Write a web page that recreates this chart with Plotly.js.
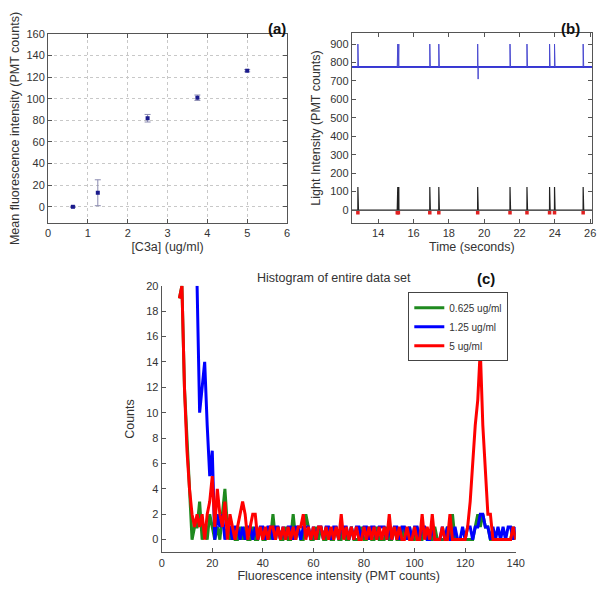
<!DOCTYPE html>
<html>
<head>
<meta charset="utf-8">
<script src="https://cdn.plot.ly/plotly-3.0.1.min.js"></script>
<style>html,body{margin:0;padding:0;background:#fff;}#chart{width:604px;height:589px;}</style>
</head>
<body>
<div id="chart"></div>
<script>
// ---------- Panel (a): mean fluorescence vs concentration ----------
const c3aConc = [0.625, 1.25, 2.5, 3.75, 5];
const meanFluor = [0, 13, 82, 101, 126];
const errPlus = [0.5, 12, 3.5, 2.5, 1];
const errMinus = [0.5, 12, 3.5, 2.5, 1];

// ---------- Panel (b): light intensity time traces ----------
const spikeTimes = [12.85, 15.08, 15.14, 16.92, 17.43, 19.63, 21.46, 22.42, 23.70, 23.98, 25.60];
const blueBaseline = 775;
const bluePeaks = [900, 900, 900, 900, 900, 900, 900, 900, 900, 900, 900];
const blueShoulders = [840, 900, 900, 840, 775, 710, 840, 775, 775, 775, 775];
const blackBaseline = 0;
const blackPeaks = [125, 125, 125, 125, 125, 125, 125, 125, 125, 125, 125];
const blackShoulders = [90, 125, 125, 65, 0, 35, 60, 60, 0, 0, 0];
const detectLevel = -15;
const timeStart = 12.5, timeEnd = 26.1;

// ---------- Panel (c): histograms (bin = 1 PMT count) ----------
const greenStart = 7;
const greenCounts = [
 19,20,12,8,3,0,1,1,3,0,
 1,0,2,1,0,1,0,2,4,1,
 0,1,0,0,1,0,1,0,0,1,
 0,0,1,0,0,1,0,2,0,1,
 0,0,1,0,0,2,0,1,0,0,
 2,1,0,0,1,0,1,0,0,1,
 0,0,1,0,0,1,0,0,1,0,
 0,0,1,0,0,1,0,0,1,0,
 0,0,1,0,0,1,0,0,0,1,
 0,1,0,0,1,0,0,1,0,0,
 0,1,0,0,0,0,1,0,2,0,
 0,0,0,0,0,0,0,1,2,1,
 2,1,1,0,0,0,0,0,0,0,
 0,0,1,0];
const blueStart = 14;
const blueCounts = [
 20,10,12,14,9,5,7,0,2,1,
 2,0,1,1,0,1,1,0,1,0,
 1,1,0,1,0,1,1,0,1,1,
 0,1,1,0,1,0,1,1,0,1,
 1,0,1,1,1,0,1,0,1,1,
 0,1,1,0,1,1,0,1,1,1,
 0,1,0,1,1,0,1,1,0,1,
 1,0,1,1,1,0,1,0,1,1,
 0,1,1,0,1,0,1,1,0,1,
 1,0,0,1,0,0,0,1,0,1,
 0,0,1,0,0,1,0,1,1,0,
 1,1,2,2,1,1,0,1,0,1,
 0,1,0,1,1,0,1];
const redStart = 7;
const redCounts = [
 19,20,12,7,4,2,1,2,1,2,
 0,2,3,5,1,4,2,1,3,0,
 2,1,0,1,2,3,2,0,1,2,
 2,0,1,0,1,0,1,1,0,1,
 0,1,0,1,0,1,0,1,1,2,
 0,1,0,1,0,1,1,0,1,0,
 1,0,1,0,2,0,1,0,1,0,
 1,0,0,1,0,1,0,1,0,1,
 0,1,0,2,0,1,0,1,0,0,
 1,0,0,1,0,0,2,0,1,0,
 2,0,0,0,1,0,0,2,0,0,
 0,0,0,0,1,3,6,9,11,15,
 9,5,2,2,0,0,0,0,0,0,
 0,0,1,0];
const seriesNames = ['0.625 ug/ml', '1.25 ug/ml', '5 ug/ml'];

function binCenters(start, n) { const a = []; for (let i = 0; i < n; i++) a.push(start + i); return a; }

function spikeTrace(base, peaks, shoulders) {
  const x = [timeStart], y = [base];
  spikeTimes.forEach((t, i) => {
    x.push(t - 0.004, t, t + 0.004, t + 0.02, t + 0.026, t + 0.032);
    y.push(base, peaks[i], base, base, shoulders[i], base);
  });
  x.push(timeEnd); y.push(base);
  return {x, y};
}

const FONT = 'Liberation Sans, Arial, sans-serif';
const TXT = '#333';

const blueSig = spikeTrace(blueBaseline, bluePeaks, blueShoulders);
const blackSig = spikeTrace(blackBaseline, blackPeaks, blackShoulders);

const traces = [
  {x: c3aConc, y: meanFluor, xaxis: 'x', yaxis: 'y', mode: 'markers', type: 'scatter', showlegend: false,
   marker: {symbol: 'square', size: 4, color: '#1a1a8c'},
   error_y: {type: 'data', array: errPlus, arrayminus: errMinus, color: '#8a8ab0', thickness: 1, width: 3}},
  {x: [timeStart, timeEnd], y: [blueBaseline, blueBaseline], xaxis: 'x2', yaxis: 'y2', mode: 'lines', showlegend: false,
   line: {color: '#2c2cd6', width: 2}},
  {x: blueSig.x, y: blueSig.y, xaxis: 'x2', yaxis: 'y2', mode: 'lines', showlegend: false,
   line: {color: '#4a4ad0', width: 1}},
  {x: blackSig.x, y: blackSig.y, xaxis: 'x2', yaxis: 'y2', mode: 'lines', showlegend: false,
   line: {color: '#222', width: 1.2}},
  {x: spikeTimes, y: spikeTimes.map(() => detectLevel), xaxis: 'x2', yaxis: 'y2', mode: 'markers', showlegend: false,
   marker: {color: '#e02020', size: 3.5, symbol: 'square'}},
  {x: binCenters(greenStart, greenCounts.length), y: greenCounts, xaxis: 'x3', yaxis: 'y3', mode: 'lines', name: seriesNames[0],
   line: {color: '#1f8a1f', width: 3}},
  {x: binCenters(blueStart, blueCounts.length), y: blueCounts, xaxis: 'x3', yaxis: 'y3', mode: 'lines', name: seriesNames[1],
   line: {color: '#0000ff', width: 3}},
  {x: binCenters(redStart, redCounts.length), y: redCounts, xaxis: 'x3', yaxis: 'y3', mode: 'lines', name: seriesNames[2],
   line: {color: '#ff0000', width: 3}}
];

const axBase = {
  showline: true, linecolor: '#555', linewidth: 1, ticks: 'inside', ticklen: 4, tickcolor: '#555',
  zeroline: false, showgrid: false, tickfont: {family: FONT, size: 11, color: TXT}
};
function ax(extra) { return Object.assign({}, axBase, extra); }
const titleFont = {family: FONT, size: 12.5, color: TXT};

const layout = {
  width: 604, height: 589,
  margin: {l: 0, r: 0, t: 0, b: 0},
  paper_bgcolor: '#fff', plot_bgcolor: '#fff',
  font: {family: FONT, color: TXT},
  xaxis: ax({domain: [0.0795, 0.4752], anchor: 'y', range: [0, 6], dtick: 1, mirror: 'ticks',
    showgrid: true, gridcolor: '#c8c8c8', griddash: 'dot', gridwidth: 1,
    title: {text: '[C3a] (ug/ml)', font: titleFont, standoff: 4}}),
  yaxis: ax({domain: [0.6214, 0.9423], anchor: 'x', range: [-15, 160], tick0: 0, dtick: 20, mirror: 'ticks',
    showgrid: true, gridcolor: '#c8c8c8', griddash: 'dot', gridwidth: 1,
    title: {text: 'Mean fluorescence intensity (PMT counts)', font: titleFont, standoff: 4}}),
  xaxis2: ax({domain: [0.5823, 0.9801], anchor: 'y2', range: [timeStart, timeEnd], tick0: 0, dtick: 2, mirror: 'ticks',
    title: {text: 'Time (seconds)', font: titleFont, standoff: 4}}),
  yaxis2: ax({domain: [0.6214, 0.944], anchor: 'x2', range: [-70, 960], tick0: 0, dtick: 100, mirror: 'ticks',
    title: {text: 'Light Intensity (PMT counts)', font: titleFont, standoff: 6}}),
  xaxis3: ax({domain: [0.2677, 0.8538], anchor: 'y3', range: [0, 140], dtick: 20,
    title: {text: 'Fluorescence intensity (PMT counts)', font: titleFont, standoff: 2}}),
  yaxis3: ax({domain: [0.0623, 0.5149], anchor: 'x3', range: [-1, 20], tick0: 0, dtick: 2,
    title: {text: 'Counts', font: titleFont, standoff: 8}}),
  legend: {x: 0.676, y: 0.504, xanchor: 'left', yanchor: 'top', bgcolor: '#fff', bordercolor: '#444', borderwidth: 1,
    font: {family: FONT, size: 10, color: TXT}, tracegroupgap: 0, itemwidth: 30},
  annotations: [
    {text: '<b>(a)</b>', xref: 'paper', yref: 'paper', x: 277/604, y: 1 - 18/589, showarrow: false, font: {family: FONT, size: 15, color: '#111'}},
    {text: '<b>(b)</b>', xref: 'paper', yref: 'paper', x: 582/604, y: 1 - 18/589, showarrow: false, font: {family: FONT, size: 15, color: '#111'}},
    {text: '<b>(c)</b>', xref: 'paper', yref: 'paper', x: 497/604, y: 1 - 279/589, showarrow: false, font: {family: FONT, size: 15, color: '#111'}},
    {text: 'Histogram of entire data set', xref: 'paper', yref: 'paper', x: 334/604, y: 1 - 278/589, showarrow: false, font: {family: FONT, size: 12.5, color: TXT}}
  ]
};

Plotly.newPlot('chart', traces, layout, {displayModeBar: false, staticPlot: true});
</script>
</body>
</html>
